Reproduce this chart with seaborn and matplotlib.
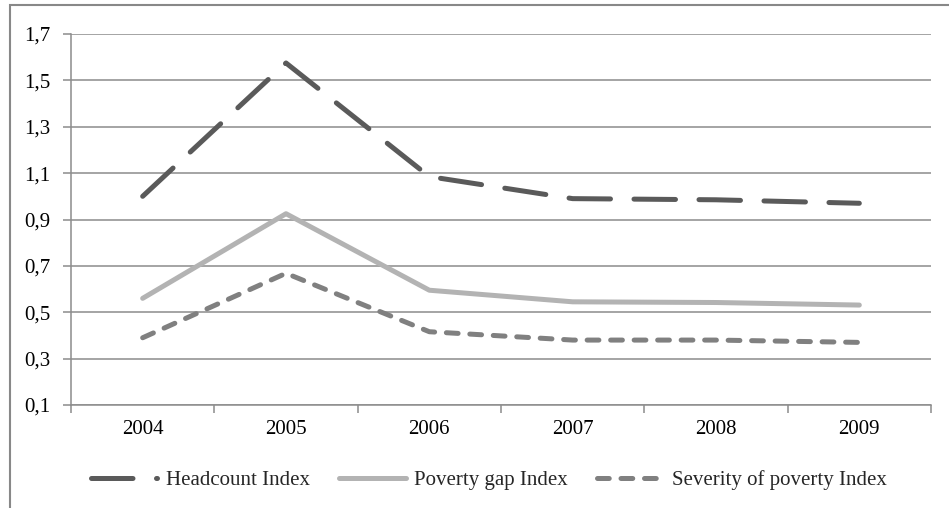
import matplotlib
matplotlib.use("Agg")
import matplotlib.pyplot as plt
from matplotlib.patches import Rectangle
from matplotlib.ticker import FixedLocator, FuncFormatter
import seaborn as sns
import pandas as pd

# Poverty indices by year
years = ["2004", "2005", "2006", "2007", "2008", "2009"]
headcount = [1.00, 1.575, 1.085, 0.99, 0.985, 0.97]
poverty_gap = [0.56, 0.925, 0.595, 0.545, 0.542, 0.531]
severity = [0.39, 0.668, 0.416, 0.38, 0.38, 0.37]

series_names = ["Headcount Index", "Poverty gap Index", "Severity of poverty Index"]
y_ticks = [0.1, 0.3, 0.5, 0.7, 0.9, 1.1, 1.3, 1.5, 1.7]

df = pd.DataFrame({
    "year": years * 3,
    "value": headcount + poverty_gap + severity,
    "series": sum([[n] * len(years) for n in series_names], []),
})

sns.set_theme(style="white")
plt.rcParams["font.family"] = ["Liberation Serif", "DejaVu Serif"]

fig = plt.figure(figsize=(9.49, 5.08), dpi=100)
ax = fig.add_axes([71 / 949, 1 - 405 / 508, (931 - 71) / 949, (405 - 34) / 508])

styles = {
    "Headcount Index": dict(color="#5a5a5a", linestyle=(0, (8.3, 4.7))),
    "Poverty gap Index": dict(color="#b3b3b3", linestyle="-"),
    "Severity of poverty Index": dict(color="#808080", linestyle=(0, (2.35, 2.35))),
}

for name in series_names:
    sub = df[df["series"] == name]
    sns.lineplot(data=sub, x="year", y="value", ax=ax, label=name,
                 linewidth=3.6, dash_capstyle="round", solid_capstyle="round",
                 solid_joinstyle="round", dash_joinstyle="round",
                 **styles[name])

grid_c = "#8c8c8c"
ax.set_xlim(-0.5, len(years) - 0.5)
ax.set_ylim(y_ticks[0], y_ticks[-1])
ax.set_yticks(y_ticks)
ax.yaxis.set_major_formatter(FuncFormatter(lambda v, p: f"{v:.1f}".replace(".", ",")))
ax.set_xticks(range(len(years)))
ax.set_xticklabels(years)
ax.xaxis.set_minor_locator(FixedLocator([i - 0.5 for i in range(len(years) + 1)]))
ax.tick_params(axis="x", which="major", length=0, pad=11, labelsize=15, colors="black")
ax.tick_params(axis="x", which="minor", length=6, width=1.1, color=grid_c, direction="out", bottom=True)
ax.tick_params(axis="y", which="major", length=6, width=1.1, color=grid_c, direction="out",
               left=True, pad=9, labelsize=15, labelcolor="black")
ax.grid(axis="y", color=grid_c, linewidth=1.1)
ax.set_axisbelow(True)
for side in ["top", "right"]:
    ax.spines[side].set_visible(False)
for side in ["left", "bottom"]:
    ax.spines[side].set_color(grid_c)
    ax.spines[side].set_linewidth(1.1)
ax.set_xlabel("")
ax.set_ylabel("")

handles, labels = ax.get_legend_handles_labels()
ax.get_legend().remove()
fig.legend(handles, labels, loc="center", bbox_to_anchor=(0.515, 0.055), ncol=3,
           frameon=False, fontsize=15, handlelength=3.2, handletextpad=0.4,
           columnspacing=1.4)

# chart area border
fig.patches.append(Rectangle((10 / 949, -0.2), 1.5, 1.2 - 5 / 508, transform=fig.transFigure,
                             fill=False, edgecolor="#888888", linewidth=1.5))

fig.savefig("out.png", dpi=100)
